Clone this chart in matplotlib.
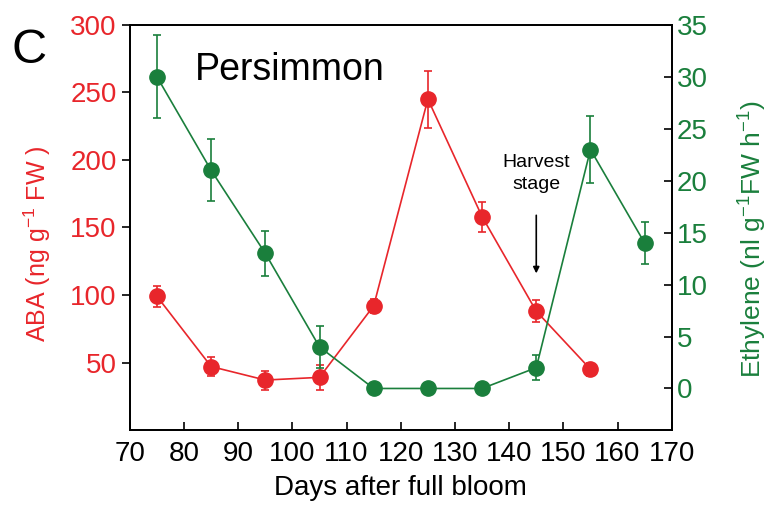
import matplotlib
matplotlib.use("Agg")
import matplotlib.pyplot as plt

plt.rcParams['font.family'] = ['Liberation Sans', 'DejaVu Sans']
plt.rcParams['mathtext.fontset'] = 'custom'
plt.rcParams['mathtext.rm'] = 'Liberation Sans'
plt.rcParams['mathtext.it'] = 'Liberation Sans'

days_aba = [75, 85, 95, 105, 115, 125, 135, 145, 155]
aba = [99, 47, 37, 39, 92, 245, 158, 88, 45]
aba_err = [8, 7, 7, 9, 5, 21, 11, 8, 5]

days_eth = [75, 85, 95, 105, 115, 125, 135, 145, 155, 165]
eth = [30, 21, 13, 4, 0, 0, 0, 2, 23, 14]
eth_err = [4, 3, 2.2, 2, 0, 0, 0, 1.2, 3.2, 2]

xticks = [70, 80, 90, 100, 110, 120, 130, 140, 150, 160, 170]
aba_ticks = [50, 100, 150, 200, 250, 300]
eth_ticks = [0, 5, 10, 15, 20, 25, 30, 35]

RED = '#e8262b'
GREEN = '#1a7f3c'

fig = plt.figure(figsize=(7.73, 5.08), dpi=100)
ax = fig.add_axes([0.168, 0.1535, 0.701, 0.7975])
ax2 = ax.twinx()

ax.errorbar(days_aba, aba, yerr=aba_err, color=RED, marker='o', markersize=11,
            lw=1.2, capsize=3, elinewidth=1.2, capthick=1.2, zorder=3)
ax2.errorbar(days_eth, eth, yerr=eth_err, color=GREEN, marker='o', markersize=11,
             lw=1.2, capsize=3, elinewidth=1.2, capthick=1.2, zorder=3)

ax.set_xlim(70, 170)
ax.set_ylim(0, 300)
ax2.set_ylim(-4, 35)
ax.set_xticks(xticks)
ax.set_yticks(aba_ticks)
ax2.set_yticks(eth_ticks)

ax.tick_params(axis='x', direction='in', labelsize=20, length=6, width=1.2, pad=8, colors='black')
ax.tick_params(axis='y', direction='out', labelsize=20, length=6, width=1.2, labelcolor=RED)
ax2.tick_params(axis='y', direction='in', labelsize=20, length=6, width=1.2, labelcolor=GREEN)

for a in (ax, ax2):
    for s in a.spines.values():
        s.set_linewidth(1.3)

ax.set_xlabel('Days after full bloom', fontsize=20, labelpad=6)
ax.set_ylabel('ABA (ng g$^{-1}$ FW )', fontsize=18, color=RED)
ax.yaxis.set_label_coords(-0.142, 0.46)
ax2.set_ylabel('Ethylene (nl g$^{-1}$FW h$^{-1}$)', fontsize=19, color=GREEN)
ax2.yaxis.set_label_coords(1.12, 0.47)

fig.text(0.015, 0.9, 'C', fontsize=35, va='center', ha='left')
ax.text(0.12, 0.889, 'Persimmon', transform=ax.transAxes, fontsize=27, va='center', ha='left')

ax.text(145, 190, 'Harvest\nstage', fontsize=14, ha='center', va='center', linespacing=1.35)
ax.annotate('', xy=(145, 116), xytext=(145, 159),
            arrowprops=dict(arrowstyle='-|>', color='black', lw=1.2,
                            mutation_scale=9, shrinkA=0, shrinkB=0))

fig.savefig('out.png', dpi=100)
